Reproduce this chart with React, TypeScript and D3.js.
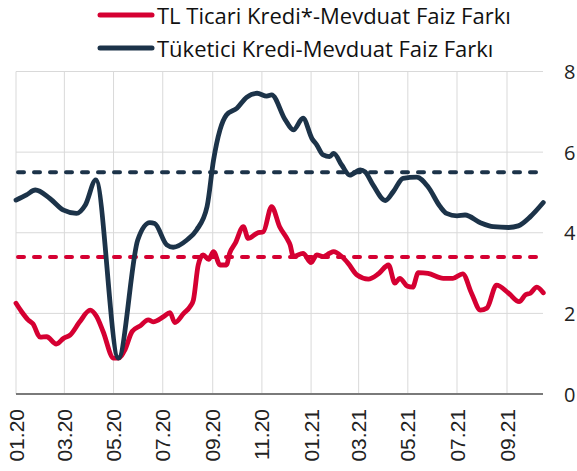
import React, { useEffect, useRef } from "react";
import * as d3 from "d3";

// Tüketici Kredi-Mevduat Faiz Farkı
const consumerDates = [
  "2020-01-01", "2020-01-14", "2020-01-25", "2020-02-12", "2020-02-29", "2020-03-16",
  "2020-03-27", "2020-04-09", "2020-05-07", "2020-05-31", "2020-06-15", "2020-06-21",
  "2020-07-06", "2020-07-14", "2020-07-31", "2020-08-12", "2020-08-25", "2020-09-02",
  "2020-09-10", "2020-09-18", "2020-10-01", "2020-10-13", "2020-10-26", "2020-11-07",
  "2020-11-13", "2020-11-30", "2020-12-10", "2020-12-22", "2021-01-02", "2021-01-08",
  "2021-01-16", "2021-01-24", "2021-01-29", "2021-02-08", "2021-02-18", "2021-03-03",
  "2021-03-09", "2021-03-19", "2021-04-03", "2021-04-13", "2021-04-25", "2021-05-12",
  "2021-05-26", "2021-06-10", "2021-06-18", "2021-07-01", "2021-07-11", "2021-07-30",
  "2021-08-15", "2021-09-03", "2021-09-15", "2021-09-30", "2021-10-16",
];
const consumerValues = [
  4.81, 4.94, 5.06, 4.85, 4.56, 4.48,
  4.69, 5.31, 0.89, 3.82, 4.25, 4.23,
  3.7, 3.64, 3.82, 4.07, 4.65, 5.8,
  6.55, 6.92, 7.09, 7.36, 7.46, 7.39,
  7.42, 6.8, 6.55, 6.84, 6.34, 6.18,
  5.93, 5.89, 5.97, 5.68, 5.43, 5.56,
  5.51, 5.18, 4.8, 5.02, 5.35, 5.38,
  5.14, 4.65, 4.48, 4.42, 4.44, 4.25,
  4.15, 4.13, 4.17, 4.4, 4.75,
];

// TL Ticari Kredi*-Mevduat Faiz Farkı
const commercialDates = [
  "2020-01-01", "2020-01-08", "2020-01-16", "2020-01-22", "2020-01-31", "2020-02-08",
  "2020-02-20", "2020-02-29", "2020-03-08", "2020-03-20", "2020-04-02", "2020-04-10",
  "2020-04-18", "2020-05-01", "2020-05-07", "2020-05-15", "2020-05-24", "2020-06-03",
  "2020-06-13", "2020-06-19", "2020-07-02", "2020-07-10", "2020-07-16", "2020-07-27",
  "2020-08-04", "2020-08-08", "2020-08-14", "2020-08-20", "2020-08-27", "2020-09-02",
  "2020-09-10", "2020-09-18", "2020-09-22", "2020-09-29", "2020-10-09", "2020-10-15",
  "2020-10-26", "2020-11-03", "2020-11-13", "2020-11-23", "2020-12-02", "2020-12-06",
  "2020-12-10", "2020-12-22", "2021-01-01", "2021-01-08", "2021-01-16", "2021-01-24",
  "2021-01-29", "2021-02-08", "2021-02-16", "2021-02-27", "2021-03-13", "2021-03-26",
  "2021-04-07", "2021-04-15", "2021-04-21", "2021-04-30", "2021-05-07", "2021-05-14",
  "2021-05-26", "2021-06-14", "2021-06-26", "2021-07-08", "2021-07-19", "2021-07-30",
  "2021-08-07", "2021-08-19", "2021-09-03", "2021-09-16", "2021-09-24", "2021-09-30",
  "2021-10-08", "2021-10-16",
];
const commercialValues = [
  2.25, 2.04, 1.84, 1.74, 1.41, 1.42,
  1.24, 1.38, 1.46, 1.79, 2.08, 1.92,
  1.55, 0.89, 0.89, 1.09, 1.55, 1.69,
  1.84, 1.79, 1.92, 2.02, 1.77, 2.0,
  2.17, 2.33, 3.2, 3.45, 3.34, 3.53,
  3.2, 3.2, 3.49, 3.74, 4.15, 3.86,
  3.99, 4.03, 4.65, 4.15, 3.86, 3.7,
  3.41, 3.49, 3.26, 3.45, 3.41, 3.49,
  3.53, 3.41, 3.24, 2.95, 2.85, 2.99,
  3.2, 2.75, 2.87, 2.68, 2.65, 3.01,
  2.99, 2.87, 2.87, 2.98, 2.5, 2.08,
  2.13, 2.7, 2.5, 2.29, 2.46, 2.5,
  2.65, 2.51,
];

// averages (dashed)
const consumerAvg = 5.5;
const commercialAvg = 3.4;

const yTicks = [0, 2, 4, 6, 8];
const xTickDates = [
  "2020-01-01", "2020-03-01", "2020-05-01", "2020-07-01", "2020-09-01", "2020-11-01",
  "2021-01-01", "2021-03-01", "2021-05-01", "2021-07-01", "2021-09-01",
];

const legendLabels = ["TL Ticari Kredi*-Mevduat Faiz Farkı", "Tüketici Kredi-Mevduat Faiz Farkı"];

const RED = "#d50032";
const NAVY = "#1c3349";

export default function App() {
  const ref = useRef<SVGSVGElement>(null);

  useEffect(() => {
    const svg = d3.select(ref.current);
    svg.selectAll("*").remove();
    const parse = d3.utcParse("%Y-%m-%d");
    const fmt = d3.utcFormat("%m.%y");

    const left = 16,
      right = 543,
      top = 71.5,
      bottom = 394;

    const x = d3
      .scaleUtc()
      .domain([parse("2020-01-01")!, parse("2021-09-01")!])
      .range([left, 507]);
    const y = d3.scaleLinear().domain([0, 8]).range([bottom, top]);

    const g = svg.append("g");

    // gridlines
    g.selectAll(".hgrid")
      .data(yTicks.filter((t) => t > 0))
      .enter()
      .append("line")
      .attr("x1", left)
      .attr("x2", right)
      .attr("y1", (d) => y(d))
      .attr("y2", (d) => y(d))
      .attr("stroke", "#d9d9d9")
      .attr("stroke-width", 1);
    g.selectAll(".vgrid")
      .data(xTickDates)
      .enter()
      .append("line")
      .attr("x1", (d) => x(parse(d)!))
      .attr("x2", (d) => x(parse(d)!))
      .attr("y1", top)
      .attr("y2", bottom)
      .attr("stroke", "#d9d9d9")
      .attr("stroke-width", 1);

    // axis line
    g.append("line")
      .attr("x1", left)
      .attr("x2", right)
      .attr("y1", y(0))
      .attr("y2", y(0))
      .attr("stroke", "#7a7a7a")
      .attr("stroke-width", 2);

    // y labels (right)
    g.selectAll(".ylab")
      .data(yTicks)
      .enter()
      .append("text")
      .attr("x", 564)
      .attr("y", (d) => y(d))
      .attr("dominant-baseline", "central")
      .attr("font-family", "'Open Sans', sans-serif")
      .attr("font-size", 20)
      .attr("fill", "#222")
      .text((d) => d);

    // x labels (rotated)
    g.selectAll(".xlab")
      .data(xTickDates)
      .enter()
      .append("text")
      .attr("transform", (d) => `translate(${x(parse(d)!)},409) rotate(-90)`)
      .attr("text-anchor", "end")
      .attr("dominant-baseline", "central")
      .attr("font-family", "'Liberation Sans', Arial, sans-serif")
      .attr("font-size", 21)
      .attr("fill", "#222")
      .text((d) => fmt(parse(d)!));

    // dashed averages
    [
      [commercialAvg, RED],
      [consumerAvg, NAVY],
    ].forEach(([v, c]) => {
      g.append("line")
        .attr("x1", left + 2)
        .attr("x2", right - 2)
        .attr("y1", y(v as number))
        .attr("y2", y(v as number))
        .attr("stroke", c as string)
        .attr("stroke-width", 4)
        .attr("stroke-linecap", "round")
        .attr("stroke-dasharray", "6,10");
    });

    const line = d3
      .line<[Date, number]>()
      .x((d) => x(d[0]))
      .y((d) => y(d[1]))
      .curve(d3.curveMonotoneX);

    const series: [string[], number[], string][] = [
      [commercialDates, commercialValues, RED],
      [consumerDates, consumerValues, NAVY],
    ];
    series.forEach(([dates, vals, c]) => {
      const pts = dates.map((d, i) => [parse(d)!, vals[i]] as [Date, number]);
      g.append("path")
        .attr("d", line(pts))
        .attr("fill", "none")
        .attr("stroke", c)
        .attr("stroke-width", 4.8)
        .attr("stroke-linejoin", "round")
        .attr("stroke-linecap", "round");
    });

    // legend
    legendLabels.forEach((lab, i) => {
      const ly = 15 + i * 33;
      g.append("line")
        .attr("x1", 100)
        .attr("x2", 152)
        .attr("y1", ly)
        .attr("y2", ly)
        .attr("stroke", i === 0 ? RED : NAVY)
        .attr("stroke-width", 5)
        .attr("stroke-linecap", "round");
      g.append("text")
        .attr("x", 157)
        .attr("y", ly)
        .attr("dominant-baseline", "central")
        .attr("font-family", "'Open Sans', sans-serif")
        .attr("font-size", 22)
        .attr("fill", "#111")
        .text(lab);
    });
  }, []);

  return (
    <svg
      ref={ref}
      width={577}
      height={471}
      style={{ position: "absolute", left: 0, top: 0, background: "#fff" }}
    />
  );
}
